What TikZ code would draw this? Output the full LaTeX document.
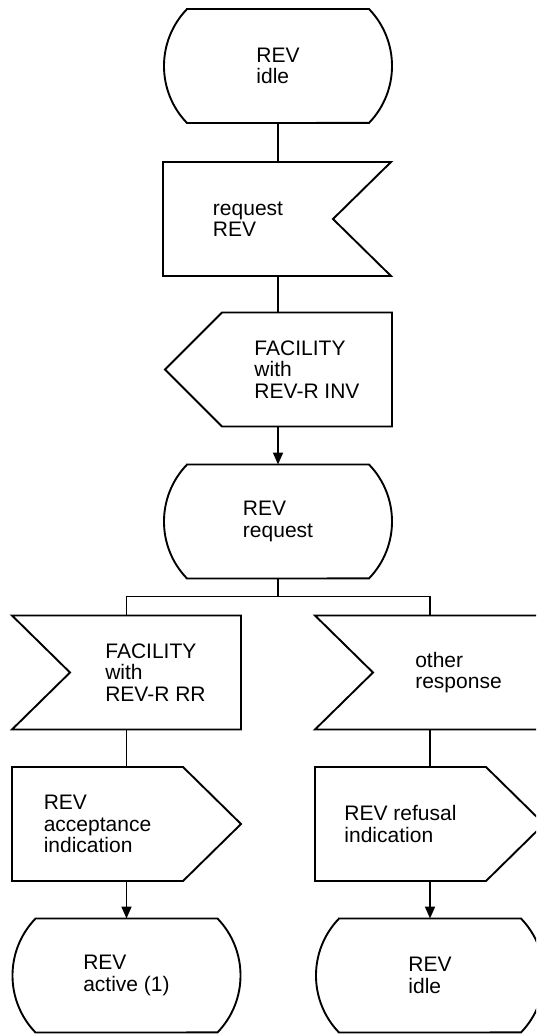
\documentclass[tikz,border=0pt]{standalone}
\usepackage{fontspec}
\setmainfont{Liberation Sans}
\usetikzlibrary{arrows.meta,calc}
\tikzset{
  sdl/.style={line width=1.9pt, line join=miter},
  flow/.style={sdl, -{Triangle[length=12pt,width=10pt]}},
  box/.style={minimum height=114pt, inner sep=0pt, outer sep=0pt, align=left,
    font=\fontsize{21pt}{21.5pt}\selectfont},
  state/.style={box, minimum width=228pt, append after command={\pgfextra{\let\sdlnode\tikzlastnode
    \draw[sdl] ([xshift=23pt]\sdlnode.north west) -- ([xshift=-23pt]\sdlnode.north east)
      arc[start angle=44, end angle=-44, radius=82pt] -- ([xshift=23pt]\sdlnode.south west)
      arc[start angle=224, end angle=136, radius=82pt] -- cycle;}}},
  inr/.style={box, minimum width=170pt, append after command={\pgfextra{\let\sdlnode\tikzlastnode
    \draw[sdl] (\sdlnode.north west) -- ([xshift=58pt]\sdlnode.north east) -- (\sdlnode.east)
      -- ([xshift=58pt]\sdlnode.south east) -- (\sdlnode.south west) -- cycle;}}},
  inl/.style={box, minimum width=171pt, append after command={\pgfextra{\let\sdlnode\tikzlastnode
    \draw[sdl] ([xshift=-58pt]\sdlnode.north west) -- (\sdlnode.north east) -- (\sdlnode.south east)
      -- ([xshift=-58pt]\sdlnode.south west) -- (\sdlnode.west) -- cycle;}}},
  outl/.style={box, minimum width=170pt, append after command={\pgfextra{\let\sdlnode\tikzlastnode
    \draw[sdl] ([xshift=-57pt]\sdlnode.west) -- (\sdlnode.north west) -- (\sdlnode.north east)
      -- (\sdlnode.south east) -- (\sdlnode.south west) -- cycle;}}},
  outr/.style={box, minimum width=171pt, append after command={\pgfextra{\let\sdlnode\tikzlastnode
    \draw[sdl] (\sdlnode.north west) -- (\sdlnode.north east) -- ([xshift=58pt]\sdlnode.east)
      -- (\sdlnode.south east) -- (\sdlnode.south west) -- cycle;}}}
}
\begin{document}
\begin{tikzpicture}[x=1pt,y=1pt]
\useasboundingbox (0,0) rectangle (536,-1034);
\clip (0,0) rectangle (536,-1034);

% main column
\node[state] (idle) at (278,-66) {REV\\idle};
\node[inr] (req) at (248,-219) {request\\REV};
\node[outl] (fac) at (307,-369.5) {FACILITY\\with\\REV-R INV};
\node[state] (reqst) at (278,-521.5) {REV\\request};

% branches
\node[inl] (rr) at (155.5,-672.5) {FACILITY\\with\\REV-R RR};
\node[inl] (oth) at (458.5,-672.5) {other\\response};
\node[outr] (acc) at (97.5,-824) {REV\\acceptance\\indication};
\node[outr] (ref) at (400.5,-824) {REV refusal\\indication};
\node[state] (act) at (126.5,-975.5) {REV\\active (1)};
\node[state] (idle2) at (430,-975.5) {REV\\idle};

\draw[sdl] (idle.south) -- (idle.south |- req.north);
\draw[sdl] (idle.south |- req.south) -- (idle.south |- fac.north);
\draw[flow] (idle.south |- fac.south) -- (reqst.north);

\coordinate (fork) at ($(reqst.south)+(0,-18)$);
\draw[sdl] (reqst.south) -- (fork);
\draw[sdl] (act.north |- rr.north) |- (fork) -| (idle2.north |- oth.north);

\draw[sdl] (act.north |- rr.south) -- (act.north |- acc.north);
\draw[flow] (act.north |- acc.south) -- (act.north);
\draw[sdl] (idle2.north |- oth.south) -- (idle2.north |- ref.north);
\draw[flow] (idle2.north |- ref.south) -- (idle2.north);
\end{tikzpicture}
\end{document}
